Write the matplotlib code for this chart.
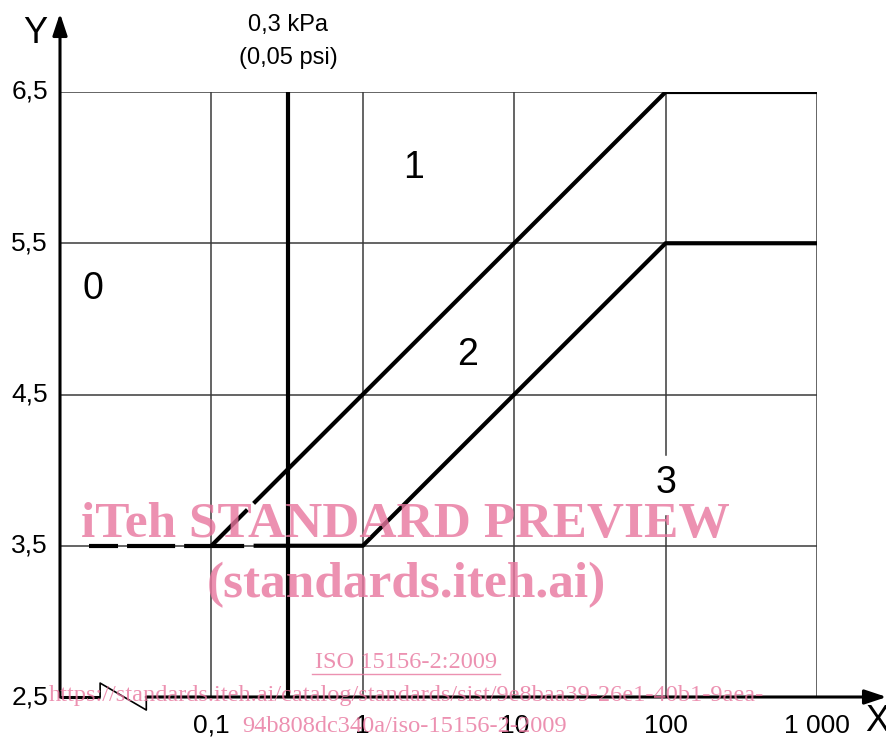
import matplotlib
matplotlib.use('Agg')
import matplotlib.pyplot as plt
from matplotlib.transforms import ScaledTranslation

plt.rcParams['font.family'] = ['Liberation Sans', 'DejaVu Sans']
plt.rcParams['lines.scale_dashes'] = False

# grid positions
x_grid = [0.1, 1, 10, 100, 1000]
y_grid = [3.5, 4.5, 5.5, 6.5]
x_ticks = [0.1, 1, 10, 100, 1000]
x_labels = ['0,1', '1', '10', '100', '1 000']
y_ticks = [2.5, 3.5, 4.5, 5.5, 6.5]
y_labels = ['2,5', '3,5', '4,5', '5,5', '6,5']

# boundary lines
line1_x = [0.19, 100, 1000]
line1_y = [3.78, 6.5, 6.5]
line1_dash_x = [0.1, 0.19]
line1_dash_y = [3.5, 3.78]
line2_x = [0.19, 1, 100, 1000]
line2_y = [3.5, 3.5, 5.5, 5.5]
base_dash_x = [0.0156, 0.19]
base_dash_y = [3.5, 3.5]
p_limit = 0.32  # 0,3 kPa

# region labels
regions = ['0', '1', '2', '3']
region_x = [0.0165, 2.16, 4.9, 100]
region_y = [5.2, 6.0, 4.76, 3.915]

fig = plt.figure(figsize=(8.86, 7.38), dpi=100)
W, H = 886, 738
ax = fig.add_axes([60 / W, (H - 697) / H, 757 / W, 605 / H])
ax.set_xscale('log')
ax.set_xlim(0.01, 1000)
ax.set_ylim(2.5, 6.5)
for s in ax.spines.values():
    s.set_visible(False)
ax.set_xticks([])
ax.set_yticks([])
ax.minorticks_off()

gc = '#3a3a3a'
for xv in x_grid:
    if xv == 100:
        ax.plot([xv, xv], [2.5, 3.7], color=gc, lw=1.1)
        ax.plot([xv, xv], [4.1, 6.5], color=gc, lw=1.1)
    else:
        ax.plot([xv, xv], [2.5, 6.5], color=gc, lw=1.1)
for yv in y_grid:
    ax.plot([0.01, 1000], [yv, yv], color=gc, lw=1.1)

# thick lines
lw = 3
ax.plot([p_limit, p_limit], [2.5, 6.5], color='black', lw=lw, solid_capstyle='butt')
ax.plot(line1_x, line1_y, color='black', lw=lw, solid_capstyle='butt')
ax.plot(line2_x, line2_y, color='black', lw=lw, solid_capstyle='butt')
ax.plot(base_dash_x, base_dash_y, color='black', lw=lw,
        dashes=(20.9, 6.5, 34.6, 6.5, 43.2, 7.2), dash_capstyle='butt')
ax.plot(line1_dash_x, line1_dash_y, color='black', lw=lw,
        dashes=(36.7, 6.5), dash_capstyle='butt')

# axes with arrows and break
ax.annotate('', xy=(0, 1.13), xytext=(0, 0), xycoords='axes fraction',
            arrowprops=dict(arrowstyle='-|>,head_length=0.6,head_width=0.2', color='black', lw=2.2,
                            mutation_scale=22, shrinkA=0, shrinkB=0))
ax.plot([0, 0.053, 0.053, 0.114, 0.114], [0, 0, 0.023, -0.0215, 0],
        transform=ax.transAxes, color='black', lw=1.2, clip_on=False)
ax.annotate('', xy=(1.092, 0), xytext=(0.114, 0), xycoords='axes fraction',
            arrowprops=dict(arrowstyle='-|>,head_length=0.6,head_width=0.2', color='black', lw=2.2,
                            mutation_scale=22, shrinkA=0, shrinkB=0))
ax.plot([0, 0.053], [0, 0], transform=ax.transAxes, color='black', lw=2.2,
        clip_on=False, solid_capstyle='butt')

# tick labels
down = ax.transData + ScaledTranslation(0, -0.17, fig.dpi_scale_trans)
for xv, lab in zip(x_ticks, x_labels):
    ax.text(xv, 2.5, lab, ha='center', va='top', fontsize=19, transform=down)
for yv, lab in zip(y_ticks, y_labels):
    ax.text(-0.0159, yv, lab, ha='right', va='center', fontsize=19,
            transform=ax.get_yaxis_transform())

ax.text(-0.033, 1.0975, 'Y', transform=ax.transAxes, ha='center', va='center', fontsize=26)
ax.text(1.08, -0.04, 'X', transform=ax.transAxes, ha='center', va='center', fontsize=26)
ax.text(p_limit, 6.943, '0,3 kPa', ha='center', va='center', fontsize=17)
ax.text(p_limit, 6.725, '(0,05 psi)', ha='center', va='center', fontsize=17)

for lab, xv, yv in zip(regions, region_x, region_y):
    ax.text(xv, yv, lab, ha='center', va='center', fontsize=27,
            bbox=dict(facecolor='white', edgecolor='none', pad=1) if lab == '3' else None)

# watermark
wm = '#e8769e'
fig.text(405 / W, 1 - 525 / H, 'iTeh STANDARD PREVIEW', ha='center', va='center',
         fontsize=37, fontweight='bold', family='Liberation Serif', color=wm, alpha=0.8)
fig.text(406 / W, 1 - 585 / H, '(standards.iteh.ai)', ha='center', va='center',
         fontsize=37, fontweight='bold', family='Liberation Serif', color=wm, alpha=0.8)
fig.text(406 / W, 1 - 663 / H, 'ISO 15156-2:2009', ha='center', va='center',
         fontsize=17.6, family='Liberation Serif', color=wm, alpha=0.8)
fig.add_artist(plt.Line2D([312 / W, 500 / W], [1 - 674 / H, 1 - 674 / H],
                          color=wm, alpha=0.8, lw=1))
fig.text(406 / W, 1 - 695 / H,
         'https://standards.iteh.ai/catalog/standards/sist/9e8baa39-26e1-40b1-9aea-',
         ha='center', va='center', fontsize=17.6, family='Liberation Serif', color=wm, alpha=0.8)
fig.text(405 / W, 1 - 726 / H, '94b808dc340a/iso-15156-2-2009', ha='center', va='center',
         fontsize=17.6, family='Liberation Serif', color=wm, alpha=0.8)

fig.savefig('out.png', dpi=100)
